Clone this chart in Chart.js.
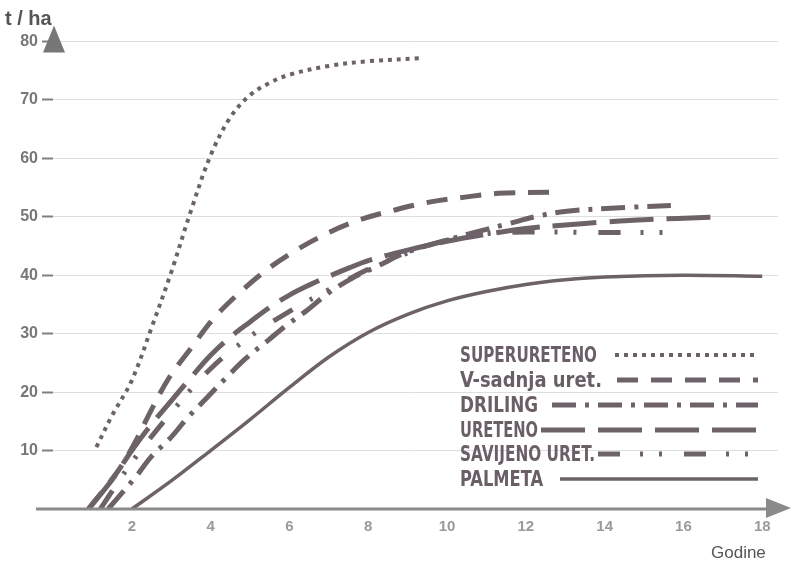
<!DOCTYPE html>
<html>
<head>
<meta charset="utf-8">
<script src="https://cdn.jsdelivr.net/npm/chart.js@4.4.1/dist/chart.umd.min.js"></script>
<style>
  html, body { margin: 0; padding: 0; background: #fff; }
  #wrap { width: 795px; height: 563px; }
</style>
</head>
<body>
<div id="wrap"><canvas id="prinos" width="795" height="563"></canvas></div>
<script>
// Podaci očitani s grafa (godine / t po ha)
var superX = [1.1, 1.5, 2, 2.5, 3, 3.5, 4, 4.5, 5, 5.5, 6, 7, 8, 9.3];
var superY = [10.6, 16, 22, 31, 40.5, 51, 60.5, 67, 70.8, 72.9, 74.3, 75.8, 76.6, 77.1];

var vSadX = [0.9, 1.65, 2.05, 2.5, 2.95, 3.5, 4.05, 4.7, 5.4, 6.1, 7, 7.8, 8.7, 9.55, 10.5, 11.3, 12.6];
var vSadY = [0, 6.5, 11, 17, 22.5, 27.5, 32.4, 36.8, 40.8, 44, 47.3, 49.5, 51.2, 52.5, 53.4, 54, 54.2];

var drilX = [1.4, 2.1, 2.5, 3, 3.4, 3.9, 4.4, 4.9, 5.45, 5.9, 6.45, 7, 7.6, 8.25, 9, 10, 10.8, 11.5, 12.3, 13.1, 14.6, 15.9];
var drilY = [0, 5.5, 9, 12.3, 15.5, 19, 22.5, 25.8, 28.8, 31.3, 34, 37, 39.5, 41.6, 44, 46, 47.5, 48.7, 50.1, 51, 51.6, 52];

var uretX = [0.9, 1.5, 2, 2.5, 3, 3.5, 4, 4.5, 5, 5.5, 6, 6.5, 7, 7.5, 8, 9, 10, 11, 12, 13, 14, 15, 16.7];
var uretY = [0, 5, 10, 14.5, 18.5, 22.5, 26.3, 29.4, 32, 34.5, 36.6, 38.3, 39.8, 41.2, 42.5, 44.3, 45.8, 47, 48, 48.6, 49.1, 49.5, 49.9];

var savX = [1.2, 2, 3, 4, 5, 6, 7, 8, 9, 10, 11, 12, 14, 16];
var savY = [0, 8, 16.5, 24, 29.5, 33.8, 37.5, 41, 43.8, 46, 47.1, 47.4, 47.3, 47.3];

var palX = [2, 3, 4, 5, 6, 7, 8, 9, 10, 11, 12, 13, 14, 16, 18];
var palY = [0, 4.8, 10, 15.3, 20.8, 26, 30.2, 33.3, 35.6, 37.2, 38.4, 39.2, 39.7, 40, 39.8];

var yTicks = [10, 20, 30, 40, 50, 60, 70, 80];
var xTicks = [2, 4, 6, 8, 10, 12, 14, 16, 18];

var nazivi = ['SUPERURETENO', 'V-sadnja uret.', 'DRILING', 'URETENO', 'SAVIJENO URET.', 'PALMETA'];

function tocke(xs, ys) {
    return xs.map(function (x, i) { return { x: x, y: ys[i] }; });
}

var boja = '#6d6268';

var serije = [
    { label: nazivi[0], data: tocke(superX, superY), borderDash: [4, 5], borderWidth: 4 },
    { label: nazivi[1], data: tocke(vSadX, vSadY), borderDash: [21, 13], borderWidth: 5 },
    { label: nazivi[2], data: tocke(drilX, drilY), borderDash: [24, 9, 4, 9], borderWidth: 5 },
    { label: nazivi[3], data: tocke(uretX, uretY), borderDash: [44, 13], borderWidth: 5 },
    { label: nazivi[4], data: tocke(savX, savY), borderDash: [22, 20, 3, 16, 3, 22], borderWidth: 5 },
    { label: nazivi[5], data: tocke(palX, palY), borderDash: [], borderWidth: 3.5 }
].map(function (s) {
    s.borderColor = boja;
    s.backgroundColor = boja;
    s.pointRadius = 0;
    s.fill = false;
    s.tension = 0.35;
    s.borderCapStyle = 'butt';
    return s;
});

// Osi sa strelicama, naslovi i legenda
var crtez = {
    id: 'crtez',
    afterDraw: function (chart) {
        var ctx = chart.ctx;
        var xs = chart.scales.x, ys = chart.scales.y;
        var y0 = ys.getPixelForValue(0);
        var x0 = xs.getPixelForValue(0);
        ctx.save();

        // x os
        ctx.strokeStyle = '#8a8a8a';
        ctx.fillStyle = '#8a8a8a';
        ctx.lineWidth = 3;
        ctx.beginPath();
        ctx.moveTo(36, y0);
        ctx.lineTo(772, y0);
        ctx.stroke();
        ctx.beginPath();
        ctx.moveTo(791, y0 - 1);
        ctx.lineTo(766, y0 - 11);
        ctx.lineTo(766, y0 + 9);
        ctx.closePath();
        ctx.fill();

        // strelica y osi
        var yTop = ys.getPixelForValue(80);
        ctx.fillStyle = '#777';
        ctx.beginPath();
        ctx.moveTo(x0 + 1, yTop - 16);
        ctx.lineTo(x0 - 10, yTop + 11);
        ctx.lineTo(x0 + 12, yTop + 11);
        ctx.closePath();
        ctx.fill();

        ctx.fillStyle = '#555';
        ctx.font = 'bold 20px "Liberation Sans", Arial, sans-serif';
        ctx.textBaseline = 'alphabetic';
        ctx.fillText('t / ha', 5, 25);
        ctx.font = '17px "Liberation Sans", Arial, sans-serif';
        ctx.fillText('Godine', 711, 558);

        // legenda
        var redovi = [362, 387, 412, 437, 461, 486];
        var sirine = [137, 142, 78, 78, 135, 83];
        var linijeOd = [615, 617, 552, 541, 598, 560];
        ctx.font = 'bold 21px "DejaVu Sans Condensed", "DejaVu Sans", sans-serif';
        chart.data.datasets.forEach(function (ds, i) {
            var sx = sirine[i] / ctx.measureText(ds.label).width;
            ctx.save();
            ctx.translate(460, redovi[i]);
            ctx.scale(sx, 1);
            ctx.fillStyle = '#6a5f66';
            ctx.fillText(ds.label, 0, 0);
            ctx.restore();
            ctx.save();
            ctx.strokeStyle = ds.borderColor;
            ctx.lineWidth = ds.borderWidth;
            ctx.setLineDash(ds.borderDash);
            ctx.beginPath();
            ctx.moveTo(linijeOd[i], redovi[i] - 7);
            ctx.lineTo(758, redovi[i] - 7);
            ctx.stroke();
            ctx.restore();
        });
        ctx.restore();
    }
};

var ctx = document.getElementById('prinos').getContext('2d');
var grafikon = new Chart(ctx, {
    type: 'line',
    data: { datasets: serije },
    options: {
        responsive: false,
        animation: false,
        devicePixelRatio: 1,
        layout: { padding: { top: 18, right: 17, left: 0, bottom: 0 } },
        plugins: { legend: { display: false }, tooltip: { enabled: false } },
        scales: {
            x: {
                type: 'linear',
                min: 0,
                max: 18.4,
                afterFit: function (s) { s.height = 54; },
                afterBuildTicks: function (s) { s.ticks = xTicks.map(function (v) { return { value: v }; }); },
                grid: { display: false, drawTicks: false },
                border: { display: false },
                ticks: {
                    padding: 9,
                    color: '#9a9a9a',
                    font: { family: '"Liberation Sans", Arial, sans-serif', size: 15, weight: 'bold' }
                }
            },
            y: {
                min: 0,
                max: 84,
                afterFit: function (s) { s.width = 53; },
                afterBuildTicks: function (s) { s.ticks = yTicks.map(function (v) { return { value: v }; }); },
                grid: {
                    color: '#dedede',
                    lineWidth: 1,
                    borderDash: [2, 3],
                    drawTicks: true,
                    tickLength: 11,
                    tickColor: '#808080',
                    tickWidth: 2,
                    tickBorderDash: []
                },
                border: { display: false },
                ticks: {
                    padding: 4,
                    color: '#777',
                    font: { family: '"Liberation Sans", Arial, sans-serif', size: 16, weight: 'bold' }
                }
            }
        }
    },
    plugins: [crtez]
});
</script>
</body>
</html>
